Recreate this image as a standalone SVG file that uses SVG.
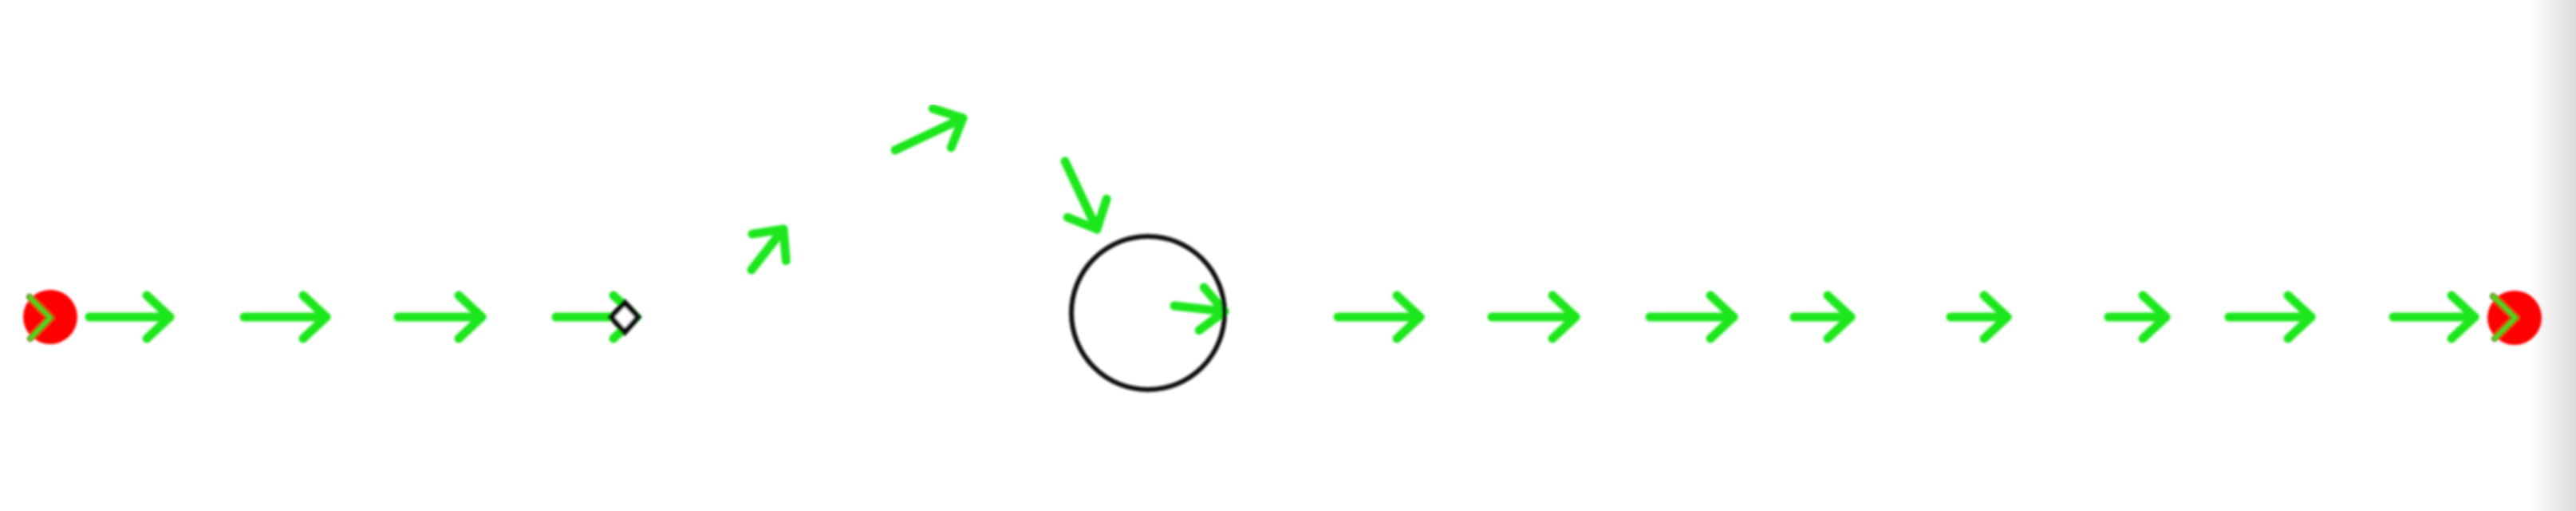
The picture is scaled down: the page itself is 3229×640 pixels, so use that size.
<svg xmlns="http://www.w3.org/2000/svg" width="3229" height="640" viewBox="0 0 3229 640">
  <defs>
    <style>
      .arrow { fill: none; stroke: #1fe61f; stroke-width: 11; stroke-linecap: round; stroke-linejoin: round; marker-end: url(#ah); }
      .dot { fill: #ff0000; }
      .chev-out { fill: none; stroke: #5f7d12; stroke-width: 8; stroke-linecap: round; stroke-linejoin: miter; }
      .chev-in { fill: none; stroke: #55e01e; stroke-width: 4; stroke-linecap: round; stroke-linejoin: miter; }
    </style>
    <marker id="ah" markerUnits="userSpaceOnUse" markerWidth="80" markerHeight="80" viewBox="-40 -40 80 80" refX="0" refY="0" orient="auto">
      <path d="M-29,-27 L0,0 L-29,27" fill="none" stroke="#1fe61f" stroke-width="11" stroke-linecap="round" stroke-linejoin="round"/>
    </marker>
    <linearGradient id="edge" x1="0" y1="0" x2="1" y2="0">
      <stop offset="0" stop-color="#ffffff"/>
      <stop offset="1" stop-color="#dcdcdc"/>
    </linearGradient>
    <filter id="soft" x="-5%" y="-5%" width="110%" height="110%">
      <feGaussianBlur stdDeviation="1.4"/>
    </filter>
  </defs>
  <rect x="0" y="0" width="3229" height="640" fill="#ffffff"/>
  <rect x="3170" y="0" width="59" height="640" fill="url(#edge)"/>

  <g filter="url(#soft)">
    <g id="connectors">
      <path class="arrow" d="M112,397 L213,397"/>
      <path class="arrow" d="M306,397 L409,397"/>
      <path class="arrow" d="M499,397 L604,397"/>
      <path class="arrow" d="M697,397 L798,397"/>
      <path class="arrow" d="M942,338 L982,287"/>
      <path class="arrow" d="M1122,188 L1207,148"/>
      <path class="arrow" d="M1335,202 L1375,287"/>
      <path class="arrow" d="M1472,383 L1535,390"/>
      <path class="arrow" d="M1677,397 L1780,397"/>
      <path class="arrow" d="M1870,397 L1975,397"/>
      <path class="arrow" d="M2068,397 L2173,397"/>
      <path class="arrow" d="M2249,397 L2320,397"/>
      <path class="arrow" d="M2445,397 L2516,397"/>
      <path class="arrow" d="M2643,397 L2715,397"/>
      <path class="arrow" d="M2794,397 L2897,397"/>
      <path class="arrow" d="M3000,397 L3102,397"/>
    </g>

    <g id="start">
      <circle class="dot" cx="63" cy="397" r="34"/>
      <path class="chev-out" d="M37,372 L63,398 L38,424"/>
      <path class="chev-in" d="M37,372 L63,398 L38,424"/>
    </g>

    <g id="junction">
      <polygon points="783,379 800,397 783,416 766,397" fill="#ffffff" stroke="#111111" stroke-width="7" stroke-linejoin="miter"/>
    </g>

    <g id="circle-node">
      <circle cx="1439" cy="392" r="96" fill="none" stroke="#111111" stroke-width="6"/>
    </g>

    <g id="end">
      <circle class="dot" cx="3152" cy="398" r="34"/>
      <path class="chev-out" d="M3125,371 L3153,398 L3127,424"/>
      <path class="chev-in" d="M3125,371 L3153,398 L3127,424"/>
    </g>
  </g>
</svg>
